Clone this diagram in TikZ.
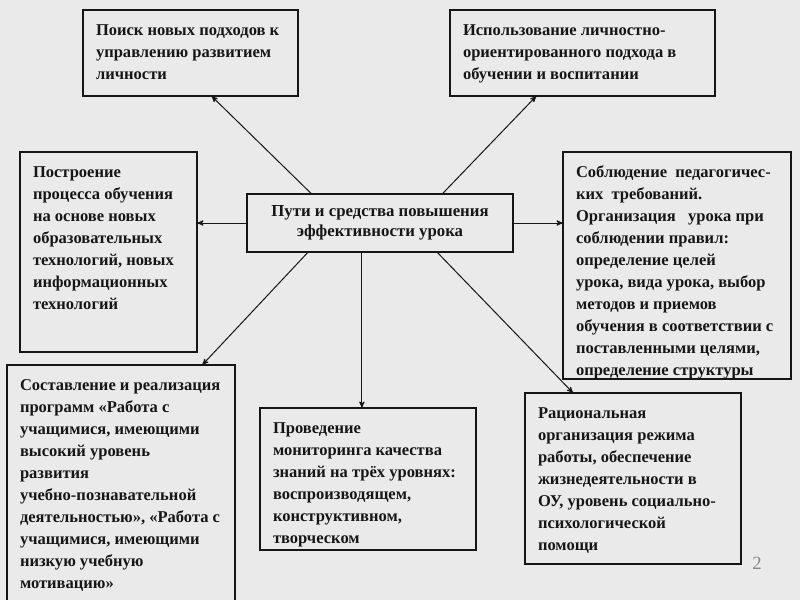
\documentclass[tikz,border=0pt]{standalone}
\usepackage{fontspec}
\setmainfont{Liberation Serif}
\usepackage{tikz}
\usetikzlibrary{positioning}
\usetikzlibrary{arrows}
\definecolor{slidegray}{RGB}{234,234,234}
\definecolor{inkgray}{RGB}{22,22,22}
\definecolor{numgray}{RGB}{135,135,135}
\newlength\px
\setlength\px{0.75pt}
% text block: {width}{height}{lines}, sizes in px
\newcommand{\boxtxt}[3]{\begin{minipage}[c][#2\px][t]{\dimexpr#1\px-26\px\relax}\rule{0pt}{25\px}\begin{tabular}[t]{@{}l@{}}#3\end{tabular}\end{minipage}}
\tikzset{path box/.style={draw=inkgray,line width=1.1pt,anchor=north west,inner xsep=9.75pt,inner ysep=0pt,outer sep=0pt,text=inkgray,font=\bfseries\fontsize{12.4pt}{16.5pt}\selectfont},
  main box/.style={draw=inkgray,line width=1.1pt,minimum width=199.5pt,minimum height=43.5pt,inner sep=0pt,outer sep=0pt,align=center,text=inkgray,font=\bfseries\fontsize{12.6pt}{15pt}\selectfont},}

\begin{document}
\begin{tikzpicture}[->, >=stealth', x=0.75pt, y=-0.75pt]
    \useasboundingbox (0,0) rectangle (800,600);
    \fill[slidegray] (0,0) rectangle (800,600);
    \clip (0,0) rectangle (800,600);

    \node[main box] (puti) at (380,223) {Пути и средства повышения\\эффективности урока};
    \node[path box] (poisk) at (83,10) {\boxtxt{215}{86}{Поиск новых подходов к\\управлению развитием\\личности}};
    \node[path box] (lichn) at (450,10) {\boxtxt{265}{86}{Использование личностно-\\ориентированного подхода в\\обучении и воспитании}};
    \node[path box] (postr) at (20,152) {\boxtxt{177}{200}{Построение\\процесса обучения\\на основе новых\\образовательных\\технологий, новых\\информационных\\технологий}};
    \node[path box] (sobl) at (563,152) {\boxtxt{228}{227}{Соблюдение\ \ педагогичес-\\ких\ \ требований.\\Организация\ \ \ урока при\\соблюдении правил:\\определение целей\\урока, вида урока, выбор\\методов и приемов\\обучения в соответствии с\\поставленными целями,\\определение структуры}};
    \node[path box] (sost) at (7,365) {\boxtxt{228}{260}{Составление и реализация\\программ «Работа с\\учащимися, имеющими\\высокий уровень\\развития\\учебно-познавательной\\деятельностью», «Работа с\\учащимися, имеющими\\низкую учебную\\мотивацию»}};
    \node[path box] (monit) at (260,408) {\boxtxt{216}{142}{Проведение\\мониторинга качества\\знаний на трёх уровнях:\\воспроизводящем,\\конструктивном,\\творческом}};
    \node[path box] (rezhim) at (525,393) {\boxtxt{216}{171}{Рациональная\\организация режима\\работы, обеспечение\\жизнедеятельности в\\ОУ, уровень социально-\\психологической\\помощи}};
    \node[text=numgray, font=\fontsize{14pt}{16pt}\selectfont] (num) at (757,563) {2};

    \path[inkgray, line width=0.75pt]
    (puti.157.5) edge (poisk.296.6)
    (puti.25.8) edge (lichn.223.4)
    (puti.west) edge (puti.west -| postr.east)
    (puti.east) edge (puti.east -| sobl.west)
    (puti.202.5) edge (sost.58.1)
    (puti.238.2) edge (puti.238.2 |- monit.north)
    (puti.333.4) edge (rezhim.125.5);
\end{tikzpicture}
\end{document}
